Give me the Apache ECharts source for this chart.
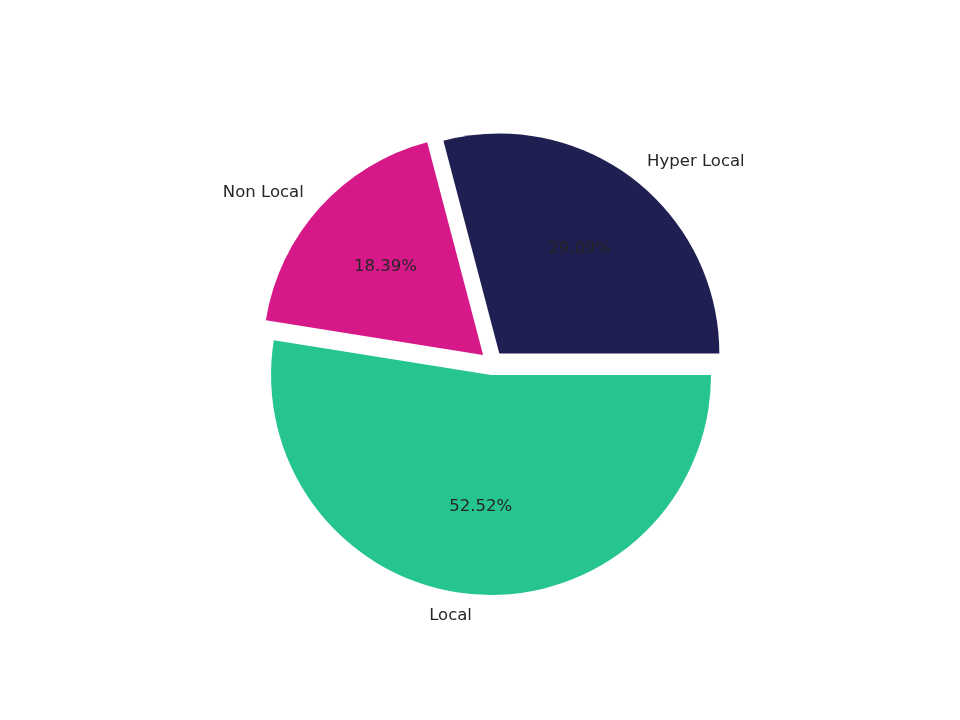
<!DOCTYPE html>
<html>
<head>
<meta charset="utf-8">
<script src="https://cdn.jsdelivr.net/npm/echarts@6/dist/echarts.min.js"></script>
<style>
  html, body { margin: 0; padding: 0; background: #fff; }
  #chart { width: 960px; height: 720px; }
</style>
</head>
<body>
<div id="chart"></div>
<script>
// 数据
const categories = ['Hyper Local', 'Non Local', 'Local'];
const shares = [29.09, 18.39, 52.52];
const colors = ['#1f1f52', '#d71888', '#25c491'];

const R = 220;
const center = [492, 363];
const font = 'DejaVu Sans';

const chart = echarts.init(document.getElementById('chart'));

const slices = categories.map((name, i) => ({
    name: name,
    value: shares[i],
    selected: true,
    itemStyle: { color: colors[i] },
}));

chart.setOption({
    animation: false,
    series: [
        {
            // slices + name labels outside (1.1 r)
            type: 'pie',
            center: center,
            radius: [0, R],
            startAngle: 0,
            clockwise: false,
            selectedMode: 'multiple',
            selectedOffset: 12,
            avoidLabelOverlap: false,
            silent: true,
            label: {
                show: true,
                position: 'outside',
                formatter: '{b}',
                fontFamily: font,
                fontSize: 16.5,
                color: '#262626',
                distanceToLabelLine: 0,
            },
            labelLine: { show: false, length: R * 0.1, length2: 0 },
            data: slices,
        },
        {
            // transparent ring, only for the percent labels near 0.6 r
            type: 'pie',
            center: center,
            radius: [R * 0.17, R],
            startAngle: 0,
            clockwise: false,
            selectedMode: 'multiple',
            selectedOffset: 12,
            avoidLabelOverlap: false,
            silent: true,
            percentPrecision: 2,
            itemStyle: { color: 'rgba(0,0,0,0)' },
            label: {
                show: true,
                position: 'inside',
                formatter: '{d}%',
                fontFamily: font,
                fontSize: 16.5,
                color: '#262626',
            },
            labelLine: { show: false },
            data: categories.map((name, i) => ({
                name: name,
                value: shares[i],
                selected: true,
                itemStyle: { color: 'rgba(0,0,0,0)' },
            })),
        },
    ],
});
</script>
</body>
</html>
